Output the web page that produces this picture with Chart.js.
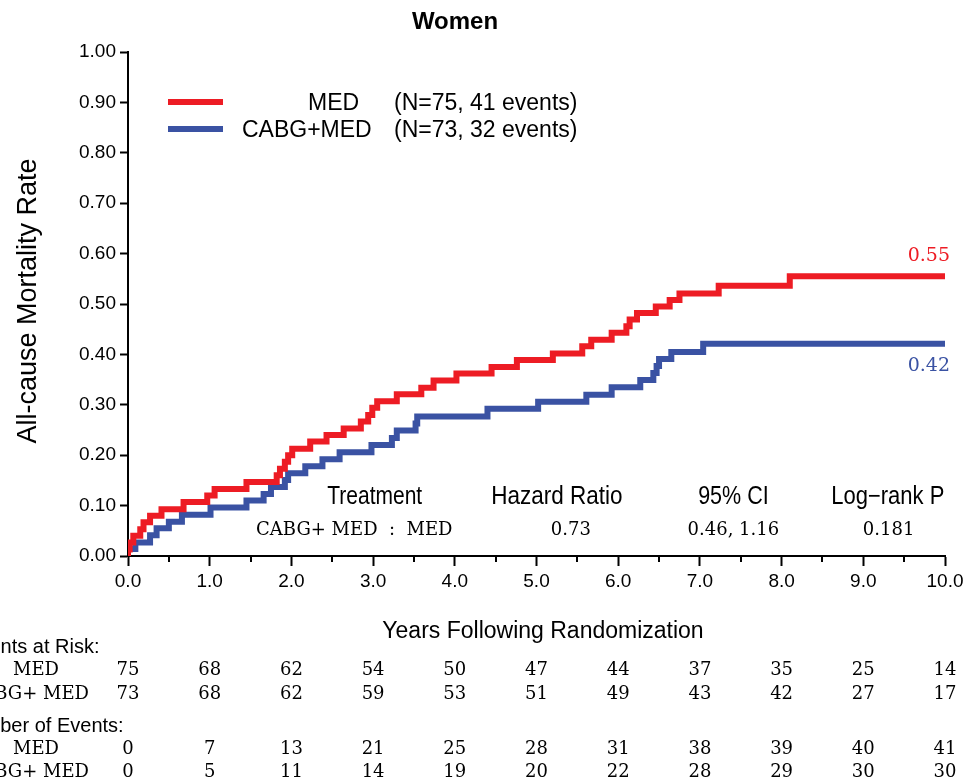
<!DOCTYPE html>
<html><head><meta charset="utf-8">
<script src="https://cdn.jsdelivr.net/npm/chart.js@4.4.1/dist/chart.umd.min.js"></script>
<style>html,body{margin:0;padding:0;background:#fff;} canvas{display:block;}</style>
</head><body>
<canvas id="c" width="971" height="783"></canvas>
<script>
// ---- Data ----
const seriesLabels = ['MED', 'CABG+MED'];
const legendNotes = ['(N=75, 41 events)', '(N=73, 32 events)'];

const medTimes = [0, 0.02, 0.065, 0.15, 0.19, 0.27, 0.41, 0.68, 0.97, 1.06, 1.45, 1.82, 1.86, 1.92, 1.96, 2.01, 2.23, 2.43, 2.64, 2.85, 2.94, 2.99, 3.05, 3.29, 3.59, 3.74, 4.02, 4.45, 4.76, 5.20, 5.56, 5.67, 5.92, 6.10, 6.14, 6.23, 6.46, 6.63, 6.75, 7.23, 8.10, 9.08, 10.0];
const medRates = [0, 0.013, 0.027, 0.040, 0.053, 0.067, 0.080, 0.093, 0.107, 0.120, 0.133, 0.147, 0.160, 0.173, 0.187, 0.200, 0.213, 0.227, 0.240, 0.253, 0.267, 0.280, 0.294, 0.307, 0.321, 0.334, 0.348, 0.362, 0.375, 0.389, 0.402, 0.416, 0.429, 0.443, 0.456, 0.469, 0.482, 0.495, 0.508, 0.521, 0.536, 0.555, 0.555];

const cabgTimes = [0, 0.09, 0.27, 0.35, 0.50, 0.66, 1.01, 1.45, 1.66, 1.75, 1.92, 1.96, 2.17, 2.38, 2.59, 2.98, 3.23, 3.29, 3.52, 3.54, 4.40, 5.02, 5.61, 5.92, 6.27, 6.43, 6.47, 6.50, 6.65, 7.04, 8.78, 10.0];
const cabgRates = [0, 0.014, 0.027, 0.041, 0.055, 0.068, 0.082, 0.096, 0.110, 0.123, 0.137, 0.151, 0.164, 0.178, 0.192, 0.206, 0.220, 0.234, 0.249, 0.263, 0.277, 0.292, 0.306, 0.320, 0.335, 0.349, 0.363, 0.377, 0.391, 0.405, 0.421, 0.421];

const finalLabels = ['0.55', '0.42'];

const tableYears = [0, 1, 2, 3, 4, 5, 6, 7, 8, 9, 10];
const atRiskMed  = [75, 68, 62, 54, 50, 47, 44, 37, 35, 25, 14];
const atRiskCabg = [73, 68, 62, 59, 53, 51, 49, 43, 42, 27, 17];
const eventsMed  = [0, 7, 13, 21, 25, 28, 31, 38, 39, 40, 41];
const eventsCabg = [0, 5, 11, 14, 19, 20, 22, 28, 29, 30, 30];

const statsHeader = ['Treatment', 'Hazard Ratio', '95% CI', 'Log\u2212rank P'];
const statsValues = ['CABG+ MED  :  MED', '0.73', '0.46, 1.16', '0.181'];

// ---- Styling ----
const RED = '#ED1C24';
const BLUE = '#3A52A3';
const SANS = '"Liberation Sans", Arial, sans-serif';
const SERIF = '"DejaVu Serif", "Liberation Serif", serif';

const textPlugin = {
  id: 'texts',
  afterDraw(chart) {
    const ctx = chart.ctx, xs = chart.scales.x, ys = chart.scales.y, ca = chart.chartArea;
    ctx.save();
    // minor x ticks
    ctx.strokeStyle = '#000'; ctx.lineWidth = 2;
    for (let v = 0.5; v < 10; v += 1) {
      const px = Math.round(xs.getPixelForValue(v));
      ctx.beginPath(); ctx.moveTo(px, ca.bottom); ctx.lineTo(px, ca.bottom + 6); ctx.stroke();
    }
    ctx.fillStyle = '#000';
    ctx.textBaseline = 'middle';
    // title
    ctx.font = 'bold 24px ' + SANS; ctx.textAlign = 'center';
    ctx.fillText('Women', 455, 22);
    // y title
    ctx.save();
    ctx.translate(29, 301); ctx.rotate(-Math.PI / 2);
    ctx.font = '27px ' + SANS; ctx.textAlign = 'center';
    ctx.fillText('All-cause Mortality Rate', 0, 0);
    ctx.restore();
    // x title
    ctx.font = '23px ' + SANS; ctx.textAlign = 'center';
    ctx.fillText('Years Following Randomization', 543, 632);
    // legend
    const legColors = [RED, BLUE];
    const legY = [102, 129];
    const legLabelX = [308, 242];
    for (let i = 0; i < 2; i++) {
      ctx.strokeStyle = legColors[i]; ctx.lineWidth = 6;
      ctx.beginPath(); ctx.moveTo(168, legY[i]); ctx.lineTo(223, legY[i]); ctx.stroke();
      ctx.fillStyle = '#000'; ctx.font = '23px ' + SANS; ctx.textAlign = 'left';
      ctx.fillText(seriesLabels[i], legLabelX[i], legY[i] + 2);
      ctx.fillText(legendNotes[i], 394, legY[i] + 2);
    }
    // final value labels
    ctx.font = '19px ' + SERIF; ctx.textAlign = 'right';
    ctx.fillStyle = RED;
    ctx.fillText(finalLabels[0], 950, ys.getPixelForValue(medRates[medRates.length - 1]) - 20);
    ctx.fillStyle = BLUE;
    ctx.fillText(finalLabels[1], 950, ys.getPixelForValue(cabgRates[cabgRates.length - 1]) + 22);
    // stats box
    ctx.fillStyle = '#000';
    const statX = [3.02, 5.25, 7.41, 9.30];
    const statValX = [2.77, 5.42, 7.41, 9.31];
    ctx.font = '25px ' + SANS; ctx.textAlign = 'center';
    const squeeze = [0.84, 0.9, 0.86, 0.88];
    for (let i = 0; i < 4; i++) {
      ctx.save();
      ctx.translate(xs.getPixelForValue(statX[i]), 497);
      ctx.scale(squeeze[i], 1);
      ctx.fillText(statsHeader[i], 0, 0);
      ctx.restore();
    }
    ctx.font = '18px ' + SERIF;
    for (let i = 0; i < 4; i++) {
      ctx.fillText(statsValues[i], xs.getPixelForValue(statValX[i]), 530);
    }
    // risk table
    ctx.font = '20px ' + SANS; ctx.textAlign = 'left';
    ctx.fillText('Patients at Risk:', -45, 647);
    ctx.fillText('Number of Events:', -42, 726);
    ctx.font = '18px ' + SERIF;
    const rows = [[atRiskMed, 670, 0], [atRiskCabg, 694, 1], [eventsMed, 749, 0], [eventsCabg, 772, 1]];
    rows.forEach(([arr, y, k]) => {
      if (k === 0) { ctx.textAlign = 'left'; ctx.fillText('MED', 13, y); }
      else { ctx.textAlign = 'right'; ctx.fillText('CABG+ MED', 89, y); }
      ctx.textAlign = 'center';
      arr.forEach((v, i) => ctx.fillText(String(v), xs.getPixelForValue(tableYears[i]), y));
    });
    ctx.restore();
  }
};

const ctx = document.getElementById('c').getContext('2d');
new Chart(ctx, {
  type: 'line',
  data: {
    datasets: [
      { label: seriesLabels[0], data: medTimes.map((t, i) => ({ x: t, y: medRates[i] })),
        borderColor: RED, borderWidth: 6, stepped: 'after', pointRadius: 0, fill: false },
      { label: seriesLabels[1], data: cabgTimes.map((t, i) => ({ x: t, y: cabgRates[i] })),
        borderColor: BLUE, borderWidth: 6, stepped: 'after', pointRadius: 0, fill: false }
    ]
  },
  options: {
    responsive: false, animation: false, devicePixelRatio: 1,
    layout: { padding: { left: 0, top: 52, right: 26, bottom: 0 } },
    plugins: { legend: { display: false }, title: { display: false }, tooltip: { enabled: false } },
    scales: {
      x: {
        type: 'linear', min: 0, max: 10,
        afterFit: s => { s.height = 227; },
        ticks: { stepSize: 1, color: '#000', font: { family: SANS, size: 19 }, padding: 4,
                 maxRotation: 0, callback: v => Number(v).toFixed(1) },
        grid: { display: true, drawOnChartArea: false, drawTicks: true, tickLength: 10, tickColor: '#000', tickWidth: 2 },
        border: { display: true, color: '#000', width: 2 }
      },
      y: {
        type: 'linear', min: 0, max: 1,
        afterFit: s => { s.width = 128; },
        ticks: { stepSize: 0.1, color: '#000', font: { family: SANS, size: 19 }, padding: 4,
                 callback: v => Number(v).toFixed(2) },
        grid: { display: true, drawOnChartArea: false, drawTicks: true, tickLength: 8, tickColor: '#000', tickWidth: 2 },
        border: { display: true, color: '#000', width: 2 }
      }
    }
  },
  plugins: [textPlugin]
});
</script>
</body></html>
